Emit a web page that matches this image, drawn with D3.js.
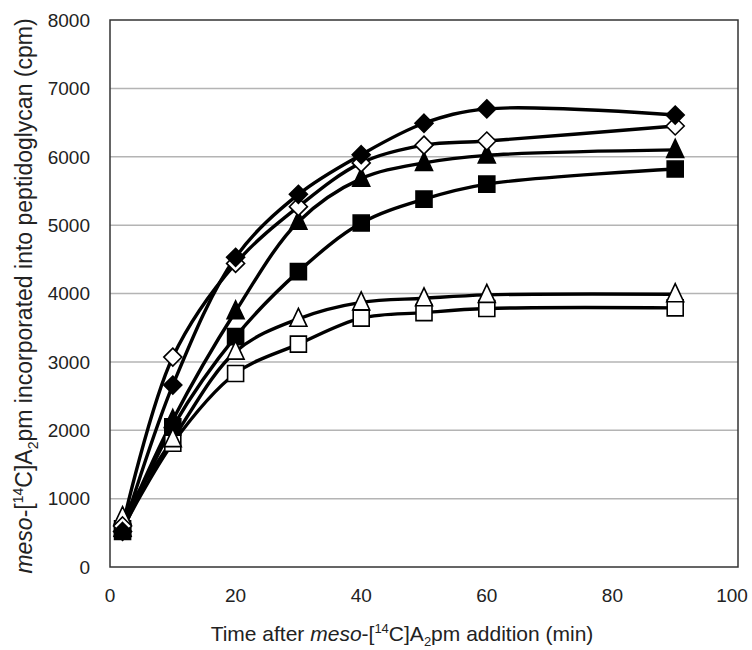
<!DOCTYPE html>
<html>
<head>
<meta charset="utf-8">
<script src="https://cdn.jsdelivr.net/npm/d3@7"></script>
<style>
  body { margin: 0; background: #fff; }
  svg text { font-family: "Liberation Sans", Arial, sans-serif; fill: #222; }
</style>
</head>
<body>
<svg id="chart" width="752" height="650"></svg>
<script>
// sampling times (min)
var times = [2, 10, 20, 30, 40, 50, 60, 90];

// cpm values, one array per marker style
var filledDiamond  = [520, 2660, 4530, 5450, 6030, 6490, 6700, 6610];
var openDiamond    = [600, 3070, 4440, 5270, 5910, 6170, 6230, 6450];
var filledTriangle = [560, 2150, 3740, 5050, 5680, 5910, 6020, 6100];
var filledSquare   = [520, 2050, 3370, 4320, 5030, 5380, 5600, 5820];
var openTriangle   = [730, 1870, 3150, 3630, 3870, 3930, 3980, 3990];
var openSquare     = [560, 1810, 2830, 3260, 3640, 3720, 3780, 3790];

var xTicks = [0, 20, 40, 60, 80, 100];
var yTicks = [0, 1000, 2000, 3000, 4000, 5000, 6000, 7000, 8000];

var series = [
  { values: filledSquare,   shape: "square",   fill: "#000" },
  { values: openSquare,     shape: "square",   fill: "#fff" },
  { values: filledTriangle, shape: "triangle", fill: "#000" },
  { values: openTriangle,   shape: "triangle", fill: "#fff" },
  { values: openDiamond,    shape: "diamond",  fill: "#fff" },
  { values: filledDiamond,  shape: "diamond",  fill: "#000" }
];

var svg = d3.select("#chart");
var plot = { left: 110, right: 738, top: 20, bottom: 567 };

var x = d3.scaleLinear().domain([0, 100]).range([plot.left, plot.right]);
var y = d3.scaleLinear().domain([0, 8000]).range([plot.bottom, plot.top]);

// horizontal gridlines
svg.append("g")
  .selectAll("line")
  .data(yTicks.slice(1, -1))
  .enter().append("line")
  .attr("x1", plot.left).attr("x2", plot.right)
  .attr("y1", function (d) { return y(d); })
  .attr("y2", function (d) { return y(d); })
  .attr("stroke", "#b4b4b4")
  .attr("stroke-width", 1.5);

// plot frame
svg.append("rect")
  .attr("x", plot.left).attr("y", plot.top)
  .attr("width", plot.right - plot.left).attr("height", plot.bottom - plot.top)
  .attr("fill", "none")
  .attr("stroke", "#333")
  .attr("stroke-width", 1.5);

// tick labels
svg.append("g")
  .selectAll("text")
  .data(yTicks)
  .enter().append("text")
  .attr("x", 90)
  .attr("y", function (d) { return y(d); })
  .attr("dy", "0.36em")
  .attr("text-anchor", "end")
  .style("font-size", "19px")
  .text(function (d) { return d; });

// last label is pulled in a bit so it stays on the page, as in the original
svg.append("g")
  .selectAll("text")
  .data(xTicks)
  .enter().append("text")
  .attr("x", function (d) { return d === 100 ? x(d) - 6 : x(d); })
  .attr("y", 602)
  .attr("text-anchor", "middle")
  .style("font-size", "19px")
  .text(function (d) { return d; });

// axis titles with italic / super / subscript parts
function richTitle(sel, fs) {
  var small = Math.round(fs * 0.62) + "px";
  sel.append("tspan").style("font-style", "italic").text("meso");
  sel.append("tspan").text("-[");
  sel.append("tspan").attr("dy", -fs * 0.38).style("font-size", small).text("14");
  sel.append("tspan").attr("dy", fs * 0.38).text("C]A");
  sel.append("tspan").attr("dy", fs * 0.25).style("font-size", small).text("2");
  sel.append("tspan").attr("dy", -fs * 0.25).text("pm");
}

var xt = svg.append("text")
  .attr("x", (plot.left + plot.right) / 2 - 22)
  .attr("y", 641)
  .attr("text-anchor", "middle")
  .style("font-size", "21px");
xt.append("tspan").text("Time after ");
richTitle(xt, 21);
xt.append("tspan").text(" addition (min)");

var yt = svg.append("text")
  .attr("transform", "translate(32," + 296 + ") rotate(-90)")
  .attr("text-anchor", "middle")
  .style("font-size", "23px");
richTitle(yt, 23);
yt.append("tspan").text(" incorporated into peptidoglycan (cpm)");

// smoothed lines
var line = d3.line()
  .x(function (d, i) { return x(times[i]); })
  .y(function (d) { return y(d); })
  .curve(d3.curveCatmullRom.alpha(0.5));

svg.append("g")
  .selectAll("path")
  .data(series)
  .enter().append("path")
  .attr("d", function (s) { return line(s.values); })
  .attr("fill", "none")
  .attr("stroke", "#000")
  .attr("stroke-width", 3.4);

// markers
var shapes = {
  square: "M-8,-8H8V8H-8Z",
  diamond: "M0,-9L9,0L0,9L-9,0Z",
  triangle: "M0,-10.5L8.5,7.5H-8.5Z"
};

series.forEach(function (s) {
  svg.append("g")
    .selectAll("path")
    .data(s.values)
    .enter().append("path")
    .attr("transform", function (d, i) {
      return "translate(" + x(times[i]) + "," + y(d) + ")";
    })
    .attr("d", shapes[s.shape])
    .attr("fill", s.fill)
    .attr("stroke", "#000")
    .attr("stroke-width", 1.6);
});
</script>
</body>
</html>
